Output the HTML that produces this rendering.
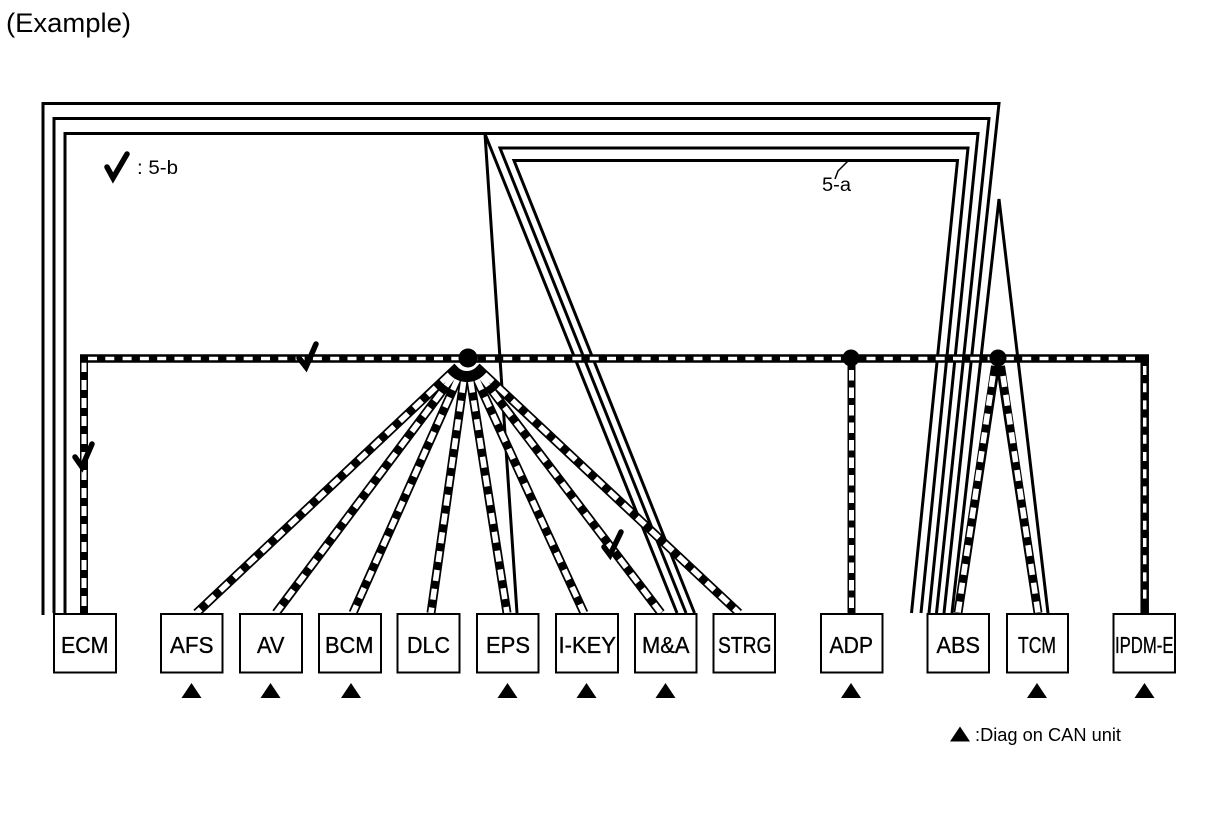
<!DOCTYPE html>
<html><head><meta charset="utf-8"><style>
html,body{margin:0;padding:0;background:#fff}
svg{display:block}
text{font-family:"Liberation Sans",sans-serif;fill:#000}
</style></head><body>
<svg width="1216" height="822" viewBox="0 0 1216 822" xmlns="http://www.w3.org/2000/svg">
<rect width="1216" height="822" fill="#fff"/>
<text x="6" y="32" font-size="27" textLength="125" lengthAdjust="spacingAndGlyphs">(Example)</text>

<g fill="none" stroke="#000" stroke-width="3">
<polyline points="43,615 43,103.5 999,103.5 944,613"/>
<polyline points="54,613 54,118.5 989,118.5 936.5,613"/>
<polyline points="65,613 65,133.5 978,133.5 929,613"/>
<polyline points="517,613 485,134 677,613"/>
<polyline points="686,613 500,148 968,148 921,613"/>
<polyline points="694.5,613 514,160.5 957.5,160.5 911.5,613"/>
<polyline points="952,613 999,199 1048,613"/>
<polyline stroke-width="1.5" points="835,179 838,171 848,161"/>
</g>

<g fill="none" stroke="#000" stroke-width="9">
<line x1="457.5" y1="366.9" x2="196.5" y2="613"/>
<line x1="459.2" y1="368.4" x2="276" y2="613"/>
<line x1="461.7" y1="369.9" x2="353" y2="613"/>
<line x1="465.2" y1="370.9" x2="431" y2="613"/>
<line x1="469" y1="370.8" x2="507" y2="613"/>
<line x1="472.4" y1="369.8" x2="584" y2="613"/>
<line x1="474.9" y1="368.3" x2="661" y2="613"/>
<line x1="476.5" y1="366.9" x2="739" y2="613"/>
<line x1="995.5" y1="366" x2="958" y2="613"/>
<line x1="1000.5" y1="366" x2="1038" y2="613"/>
</g>
<g fill="none" stroke="#fff" stroke-width="5.5" stroke-dasharray="11 8">
<line x1="449.5" y1="374.5" x2="196.5" y2="613"/>
<line x1="452.6" y1="377.2" x2="276" y2="613"/>
<line x1="457.2" y1="379.9" x2="353" y2="613"/>
<line x1="463.6" y1="381.8" x2="431" y2="613"/>
<line x1="470.7" y1="381.7" x2="507" y2="613"/>
<line x1="477" y1="379.8" x2="584" y2="613"/>
<line x1="481.5" y1="377.1" x2="661" y2="613"/>
<line x1="484.5" y1="374.4" x2="739" y2="613"/>
<line x1="993" y1="376" x2="958" y2="613"/>
<line x1="1003" y1="376" x2="1038" y2="613"/>
</g>

<circle cx="468" cy="358" r="11.5" fill="#fff"/>

<g fill="none">
<line x1="84" y1="358" x2="84" y2="613" stroke="#000" stroke-width="8"/>
<line x1="84" y1="362" x2="84" y2="613" stroke="#fff" stroke-width="5" stroke-dasharray="10 8"/>
<line x1="851.5" y1="358" x2="851.5" y2="613" stroke="#000" stroke-width="8"/>
<line x1="851.5" y1="370" x2="851.5" y2="613" stroke="#fff" stroke-width="5" stroke-dasharray="10.5 7"/>
<line x1="1144.7" y1="358" x2="1144.7" y2="613" stroke="#000" stroke-width="8.5"/>
<line x1="1144.7" y1="366" x2="1144.7" y2="604" stroke="#fff" stroke-width="3.5" stroke-dasharray="9 8.2"/>
<line x1="80" y1="358.5" x2="1149" y2="358.5" stroke="#000" stroke-width="8.5"/>
<line x1="88" y1="358.5" x2="1140" y2="358.5" stroke="#fff" stroke-width="3.5" stroke-dasharray="9 8.3"/>
</g>

<g fill="#000">
<circle cx="468" cy="358" r="9.5"/>
<circle cx="851" cy="358" r="8.5"/>
<circle cx="998" cy="358" r="8.5"/>
</g>

<g fill="none" stroke="#000" stroke-width="5.5" stroke-linecap="round" stroke-linejoin="miter">
<polyline points="107,167 113,178 127,154"/>
<polyline points="299,358 306,367 316,344"/>
<polyline points="75,457 82,467 92,444"/>
<polyline points="604,547 610,555 621,532"/>
</g>

<text x="137" y="174" font-size="19" textLength="41" lengthAdjust="spacingAndGlyphs">: 5-b</text>
<text x="822" y="191" font-size="19" textLength="29" lengthAdjust="spacingAndGlyphs">5-a</text>

<g fill="#fff" stroke="#000" stroke-width="2">
<rect x="54" y="614" width="62" height="58.5"/>
<rect x="161" y="614" width="61.5" height="58.5"/>
<rect x="240" y="614" width="62" height="58.5"/>
<rect x="319" y="614" width="62" height="58.5"/>
<rect x="397.5" y="614" width="62" height="58.5"/>
<rect x="477" y="614" width="61.5" height="58.5"/>
<rect x="556" y="614" width="62" height="58.5"/>
<rect x="635" y="614" width="61.5" height="58.5"/>
<rect x="713.5" y="614" width="61.5" height="58.5"/>
<rect x="821" y="614" width="61.5" height="58.5"/>
<rect x="927.5" y="614" width="61.5" height="58.5"/>
<rect x="1007" y="614" width="61" height="58.5"/>
<rect x="1113.5" y="614" width="61.5" height="58.5"/>
</g>

<g font-size="23" stroke="#000" stroke-width="0.35">
<text x="61" y="653" textLength="47.5" lengthAdjust="spacingAndGlyphs">ECM</text>
<text x="170" y="653" textLength="43.5" lengthAdjust="spacingAndGlyphs">AFS</text>
<text x="257" y="653" textLength="27.5" lengthAdjust="spacingAndGlyphs">AV</text>
<text x="325" y="653" textLength="48.5" lengthAdjust="spacingAndGlyphs">BCM</text>
<text x="407" y="653" textLength="43" lengthAdjust="spacingAndGlyphs">DLC</text>
<text x="486" y="653" textLength="44" lengthAdjust="spacingAndGlyphs">EPS</text>
<text x="558.5" y="653" textLength="57.5" lengthAdjust="spacingAndGlyphs">I-KEY</text>
<text x="642" y="653" textLength="47.5" lengthAdjust="spacingAndGlyphs">M&amp;A</text>
<text x="718" y="653" textLength="53.5" lengthAdjust="spacingAndGlyphs">STRG</text>
<text x="829.5" y="653" textLength="43.5" lengthAdjust="spacingAndGlyphs">ADP</text>
<text x="936.5" y="653" textLength="43.5" lengthAdjust="spacingAndGlyphs">ABS</text>
<text x="1018" y="653" textLength="38" lengthAdjust="spacingAndGlyphs">TCM</text>
<text x="1115" y="653" textLength="58.5" lengthAdjust="spacingAndGlyphs">IPDM-E</text>
</g>

<g fill="#000">
<polygon points="191.5,683 201.5,698 181.5,698"/>
<polygon points="270.5,683 280.5,698 260.5,698"/>
<polygon points="351,683 361,698 341,698"/>
<polygon points="507.5,683 517.5,698 497.5,698"/>
<polygon points="586.5,683 596.5,698 576.5,698"/>
<polygon points="665.5,683 675.5,698 655.5,698"/>
<polygon points="851,683 861,698 841,698"/>
<polygon points="1037,683 1047,698 1027,698"/>
<polygon points="1144.5,683 1154.5,698 1134.5,698"/>
<polygon points="960,726.5 970,741.5 950,741.5"/>
</g>
<text x="975" y="741" font-size="18" textLength="146" lengthAdjust="spacingAndGlyphs">:Diag on CAN unit</text>
</svg>
</body></html>
